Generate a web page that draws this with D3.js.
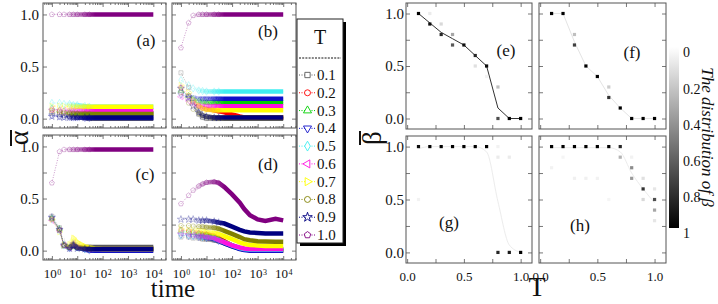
<!DOCTYPE html>
<html><head><meta charset="utf-8">
<script src="https://cdn.jsdelivr.net/npm/d3@7"></script>
<style>
body{margin:0;background:#fff}
svg{display:block}
text{font-family:"Liberation Serif","Times New Roman",Times,serif;fill:#111}
</style>
</head><body>
<svg id="c" width="718" height="304"></svg>
<script>
// ---------------- DATA ----------------
const temps = ["0.1","0.2","0.3","0.4","0.5","0.6","0.7","0.8","0.9","1.0"];
const seriesColors = ["#5a5a5a","#ff0000","#00d000","#1010c8","#40eef0","#ff10e0","#ffff00","#808000","#000080","#800080"];
const symbolKinds = ["square","circle","triangle","down","diamond","left","right","circle","star","pentagon"];
const times = [1,2,3,5,7,10,20,30,50,100,200,300,500,1000,2000,5000,10000];

const alphaA = [
  [0.05,0.04,0.03,0.02,0.015,0.01,0.005,0,0,0,0,0,0,0,0,0,0],
  [0.08,0.07,0.06,0.055,0.05,0.05,0.05,0.05,0.05,0.05,0.05,0.05,0.05,0.05,0.05,0.05,0.05],
  [0.10,0.08,0.07,0.06,0.055,0.05,0.05,0.05,0.05,0.05,0.05,0.05,0.05,0.05,0.05,0.05,0.05],
  [0.03,0.02,0.02,0.015,0.01,0.01,0.005,0.005,0.005,0.005,0.005,0.005,0.005,0.005,0.005,0.005,0.005],
  [0.15,0.15,0.14,0.14,0.13,0.13,0.12,0.115,0.115,0.115,0.115,0.115,0.115,0.115,0.115,0.115,0.115],
  [0.09,0.085,0.08,0.08,0.08,0.08,0.08,0.08,0.08,0.08,0.08,0.08,0.08,0.08,0.08,0.08,0.08],
  [0.12,0.12,0.12,0.115,0.115,0.115,0.115,0.115,0.115,0.115,0.115,0.115,0.115,0.115,0.115,0.115,0.115],
  [0.06,0.055,0.05,0.045,0.045,0.045,0.045,0.045,0.045,0.045,0.045,0.045,0.045,0.045,0.045,0.045,0.045],
  [0.02,0.015,0.01,0.01,0.01,0.01,0.01,0.01,0.01,0.01,0.01,0.01,0.01,0.01,0.01,0.01,0.01],
  [1,1,1,1,1,1,1,1,1,1,1,1,1,1,1,1,1]
];
const alphaB = [
  [0.44,0.30,0.18,0.04,0.01,0,0,0,0,0,0,0,0,0,0,0,0],
  [0.30,0.22,0.16,0.12,0.10,0.09,0.08,0.07,0.06,0.04,0.02,0.012,0.01,0.01,0.01,0.01,0.01],
  [0.27,0.22,0.19,0.17,0.16,0.155,0.155,0.155,0.155,0.155,0.155,0.155,0.155,0.155,0.155,0.155,0.155],
  [0.23,0.21,0.20,0.19,0.19,0.19,0.19,0.19,0.19,0.19,0.19,0.19,0.19,0.19,0.19,0.19,0.19],
  [0.37,0.32,0.29,0.27,0.265,0.26,0.26,0.26,0.26,0.26,0.26,0.26,0.26,0.26,0.26,0.26,0.26],
  [0.21,0.17,0.14,0.125,0.12,0.12,0.12,0.12,0.12,0.12,0.12,0.12,0.12,0.12,0.12,0.12,0.12],
  [0.32,0.25,0.18,0.12,0.095,0.085,0.08,0.08,0.08,0.08,0.08,0.08,0.08,0.08,0.08,0.08,0.08],
  [0.25,0.15,0.09,0.05,0.03,0.02,0.01,0.01,0.01,0.01,0.01,0.01,0.01,0.01,0.01,0.01,0.01],
  [0.29,0.20,0.12,0.06,0.03,0.02,0.01,0.01,0.01,0.01,0.01,0.01,0.01,0.01,0.01,0.01,0.01],
  [0.68,0.92,0.99,1,1,1,1,1,1,1,1,1,1,1,1,1,1]
];
const alphaC = [
  [0.33,0.22,0.06,0.03,0.04,0.035,0.035,0.035,0.035,0.035,0.035,0.035,0.035,0.035,0.035,0.035,0.035],
  [0.30,0.20,0.05,0.03,0.05,0.03,0.02,0.015,0.015,0.015,0.015,0.015,0.015,0.015,0.015,0.015,0.015],
  [0.31,0.21,0.05,0.03,0.06,0.03,0.02,0.015,0.015,0.015,0.015,0.015,0.015,0.015,0.015,0.015,0.015],
  [0.31,0.20,0.05,0.02,0.06,0.03,0.01,0,0,0,0,0,0,0,0,0,0],
  [0.30,0.19,0.05,0.03,0.07,0.03,0.015,0.015,0.015,0.015,0.015,0.015,0.015,0.015,0.015,0.015,0.015],
  [0.29,0.19,0.05,0.03,0.07,0.035,0.02,0.015,0.015,0.015,0.015,0.015,0.015,0.015,0.015,0.015,0.015],
  [0.30,0.18,0.05,0.06,0.12,0.08,0.04,0.03,0.02,0.015,0.015,0.015,0.015,0.015,0.015,0.015,0.015],
  [0.31,0.20,0.05,0.03,0.06,0.03,0.02,0.015,0.015,0.015,0.015,0.015,0.015,0.015,0.015,0.015,0.015],
  [0.32,0.20,0.05,0.02,0.05,0.02,0.015,0.015,0.015,0.015,0.015,0.015,0.015,0.015,0.015,0.015,0.015],
  [0.65,0.95,0.97,0.97,0.97,0.97,0.97,0.97,0.97,0.97,0.97,0.97,0.97,0.97,0.97,0.97,0.97]
];
const alphaD = [
  [0.13,0.13,0.12,0.12,0.11,0.11,0.10,0.09,0.07,0.04,0.02,0.01,0.005,0,0,0,0],
  [0.20,0.19,0.18,0.17,0.16,0.16,0.14,0.12,0.09,0.05,0.02,0.01,0.005,0.005,0.005,0.005,0.005],
  [0.19,0.18,0.17,0.16,0.15,0.15,0.13,0.11,0.08,0.05,0.02,0.012,0.01,0.01,0.01,0.01,0.01],
  [0.15,0.14,0.14,0.13,0.13,0.12,0.11,0.09,0.07,0.04,0.015,0.005,0,0,0,0,0],
  [0.15,0.15,0.14,0.14,0.13,0.13,0.12,0.10,0.08,0.05,0.025,0.015,0.01,0.01,0.01,0.01,0.01],
  [0.17,0.16,0.15,0.14,0.14,0.13,0.12,0.10,0.08,0.05,0.03,0.02,0.015,0.015,0.015,0.015,0.015],
  [0.21,0.20,0.20,0.19,0.19,0.18,0.17,0.16,0.14,0.11,0.08,0.065,0.055,0.05,0.045,0.045,0.045],
  [0.24,0.24,0.235,0.23,0.23,0.225,0.22,0.21,0.19,0.16,0.13,0.11,0.10,0.09,0.088,0.086,0.085],
  [0.30,0.30,0.30,0.29,0.29,0.29,0.28,0.27,0.26,0.23,0.20,0.185,0.175,0.17,0.165,0.165,0.165],
  [0.45,0.53,0.58,0.62,0.64,0.655,0.66,0.65,0.61,0.54,0.46,0.40,0.34,0.30,0.285,0.305,0.29]
];

const Tvals = [0.1,0.2,0.3,0.4,0.5,0.6,0.7,0.8,0.9,1.0];
const meanE = [1.0,0.91,0.82,0.76,0.70,0.60,0.50,0.10,0.0,0.0];
const meanF = [1.0,1.0,0.73,0.50,0.40,0.22,0.10,0.0,0.0,0.0];
const meanG = [0.98,1.0,1.0,1.0,1.0,1.0,0.95,0.48,0.07,0.0];
const meanH = [0.99,0.99,0.99,0.99,0.99,0.99,0.95,0.75,0.60,0.47];
// [T, beta, share]
const distE = [[0.1,1.0,1.0],[0.2,0.9,0.95],[0.2,1.0,0.08],[0.3,0.8,0.85],[0.3,0.9,0.15],[0.4,0.7,0.65],[0.4,0.8,0.35],
  [0.5,0.7,0.95],[0.6,0.6,0.85],[0.6,0.5,0.12],[0.7,0.5,0.95],[0.7,0.4,0.05],[0.8,0.3,0.25],[0.8,0.0,0.7],[0.9,0.0,1.0],[1.0,0.0,1.0]];
const distF = [[0.1,1.0,1.0],[0.2,1.0,1.0],[0.3,0.8,0.25],[0.3,0.7,0.75],[0.4,0.5,1.0],[0.5,0.4,1.0],[0.6,0.3,0.2],[0.6,0.2,0.8],
  [0.7,0.1,1.0],[0.8,0.0,1.0],[0.9,0.0,1.0],[1.0,0.0,1.0]];
const distG = [[0.1,1.0,0.95],[0.1,0.5,0.05],[0.2,1.0,1.0],[0.3,1.0,1.0],[0.4,1.0,1.0],[0.5,1.0,1.0],[0.6,1.0,1.0],[0.7,1.0,1.0],
  [0.8,1.0,0.05],[0.8,0.9,0.08],[0.8,0.0,0.85],[0.9,0.9,0.08],[0.9,0.0,0.9],[1.0,0.0,1.0]];
const distH = [[0.1,1.0,1.0],[0.1,0.8,0.05],[0.2,1.0,1.0],[0.2,0.9,0.04],[0.3,1.0,1.0],[0.3,0.7,0.06],[0.4,1.0,1.0],[0.4,0.7,0.06],
  [0.5,1.0,1.0],[0.5,0.7,0.05],[0.6,1.0,1.0],[0.6,0.5,0.04],[0.7,1.0,0.85],[0.7,0.9,0.3],[0.8,0.8,0.45],[0.8,0.7,0.4],[0.8,0.9,0.05],
  [0.9,0.7,0.12],[0.9,0.6,0.8],[0.9,0.5,0.15],[1.0,0.6,0.1],[1.0,0.5,0.7],[1.0,0.4,0.35],[1.0,0.3,0.1]];
const cbTicks = [0,0.2,0.4,0.6,0.8,1];

// ---------------- DRAWING ----------------
const SERIF = '"Liberation Serif","Times New Roman",Times,serif';
const svg = d3.select("#c").style("font-family",SERIF);
const defs = svg.append("defs");
const FRAME = "#555";

const pentagonType = {draw(ctx,size){const r=Math.sqrt(size/2.378);for(let k=0;k<5;k++){const a=-Math.PI/2+k*2*Math.PI/5;const px=r*Math.cos(a),py=r*Math.sin(a);k?ctx.lineTo(px,py):ctx.moveTo(px,py);}ctx.closePath();}};
const symMap = {square:d3.symbolSquare,circle:d3.symbolCircle,triangle:d3.symbolTriangle,down:d3.symbolTriangle,diamond:d3.symbolDiamond,left:d3.symbolTriangle,right:d3.symbolTriangle,star:d3.symbolStar,pentagon:pentagonType};
const symRot = {down:180,left:-90,right:90};
function symPath(kind,size){return d3.symbol().type(symMap[kind]).size(size)();}

function styleAxis(g, fs){
  g.attr("font-family",SERIF);
  g.select(".domain").remove();
  g.selectAll(".tick line").attr("stroke",FRAME).attr("stroke-width",0.8);
  g.selectAll(".tick text").attr("font-size",fs).style("font-family",SERIF).attr("fill","#111");
}

function frameRect(p){
  svg.append("rect").attr("x",p.x0).attr("y",p.y0).attr("width",p.x1-p.x0).attr("height",p.y1-p.y0)
    .attr("fill","none").attr("stroke",FRAME).attr("stroke-width",1);
}

const alphaX = (p)=>d3.scaleLog().domain([Math.pow(10,-0.35),Math.pow(10,4.5)]).range([p.x0,p.x1]);
const alphaY = (p)=>d3.scaleLinear().domain([-0.09,1.11]).range([p.y1,p.y0]);
const decades = [1,10,100,1000,10000];
const minors = [];
[0.1,1,10,100,1000,10000].forEach(d=>{for(let m=2;m<=9;m++){const v=d*m;if(v>=Math.pow(10,-0.35)&&v<=Math.pow(10,4.5))minors.push(v);}});
const yTicksAll = [0,0.25,0.5,0.75,1];

function drawAlphaPanel(key, data, p, showY, showX, label, labelPos){
  const x = alphaX(p), y = alphaY(p);
  const cid = "clip-"+key;
  defs.append("clipPath").attr("id",cid).append("rect").attr("x",p.x0).attr("y",p.y0).attr("width",p.x1-p.x0).attr("height",p.y1-p.y0);
  const g = svg.append("g").attr("clip-path",`url(#${cid})`);
  const line = d3.line().x(d=>x(d[0])).y(d=>y(d[1]));
  data.forEach((vals,i)=>{
    const c = seriesColors[i];
    const pts = times.map((t,j)=>[t,vals[j]]);
    g.append("path").attr("d",line(pts)).attr("fill","none").attr("stroke",c).attr("stroke-width",0.8)
      .attr("stroke-dasharray","1,1.5").attr("opacity",0.5);
    pts.filter(d=>d[0]<=30).forEach(d=>{
      g.append("path").attr("d",symPath(symbolKinds[i],16))
        .attr("transform",`translate(${x(d[0])},${y(d[1])}) rotate(${symRot[symbolKinds[i]]||0})`)
        .attr("fill","none").attr("stroke",c).attr("stroke-width",0.7).attr("opacity",0.4);
    });
    const gid = `grad-${key}-${i}`;
    const lg = defs.append("linearGradient").attr("id",gid).attr("gradientUnits","userSpaceOnUse")
      .attr("x1",x(3)).attr("x2",x(50)).attr("y1",0).attr("y2",0);
    lg.append("stop").attr("offset",0).attr("stop-color",c).attr("stop-opacity",0);
    lg.append("stop").attr("offset",0.5).attr("stop-color",c).attr("stop-opacity",0.55);
    lg.append("stop").attr("offset",1).attr("stop-color",c).attr("stop-opacity",1);
    g.append("path").attr("d",line(pts)).attr("fill","none").attr("stroke",`url(#${gid})`).attr("stroke-width",4.5);
  });
  frameRect(p);
  const gb = svg.append("g").attr("transform",`translate(0,${p.y1})`)
    .call(d3.axisBottom(x).tickValues(decades).tickSize(-4).tickPadding(9).tickFormat(d=>"10"));
  styleAxis(gb,13);
  if(showX){
    gb.selectAll(".tick text").each(function(d){
      const t=d3.select(this); t.text(null);
      t.append("tspan").text("10");
      t.append("tspan").attr("dx","0.5").attr("dy","-0.45em").attr("font-size",8).text(Math.round(Math.log10(d)));
    });
  } else gb.selectAll(".tick text").remove();
  const gbm = svg.append("g").attr("transform",`translate(0,${p.y1})`).call(d3.axisBottom(x).tickValues(minors).tickSize(-2).tickFormat(""));
  styleAxis(gbm,10);
  const gt = svg.append("g").attr("transform",`translate(0,${p.y0})`).call(d3.axisTop(x).tickValues(decades).tickSize(-4).tickFormat(""));
  styleAxis(gt,10);
  const gtm = svg.append("g").attr("transform",`translate(0,${p.y0})`).call(d3.axisTop(x).tickValues(minors).tickSize(-2).tickFormat(""));
  styleAxis(gtm,10);
  const gl = svg.append("g").attr("transform",`translate(${p.x0},0)`)
    .call(d3.axisLeft(y).tickValues(yTicksAll).tickSize(-4).tickPadding(4).tickFormat(d=>(showY&&(d===0||d===0.5||d===1))?d3.format(".1f")(d):""));
  styleAxis(gl,15);
  const gr = svg.append("g").attr("transform",`translate(${p.x1},0)`).call(d3.axisRight(y).tickValues(yTicksAll).tickSize(-4).tickFormat(""));
  styleAxis(gr,10);
  svg.append("text").attr("x",labelPos[0]).attr("y",labelPos[1]).attr("text-anchor","middle").attr("font-size",17).text(label);
}

const PA={x0:43,x1:166,y0:3,y1:128}, PB={x0:172,x1:296,y0:3,y1:128},
      PC={x0:43,x1:166,y0:135,y1:260}, PD={x0:172,x1:296,y0:135,y1:260};
drawAlphaPanel("a",alphaA,PA,true,false,"(a)",[146,46]);
drawAlphaPanel("b",alphaB,PB,false,false,"(b)",[268,37]);
drawAlphaPanel("c",alphaC,PC,true,true,"(c)",[145,180]);
drawAlphaPanel("d",alphaD,PD,false,true,"(d)",[268,170]);

// beta panels
const betaX = (p)=>d3.scaleLinear().domain([-0.01,1.1]).range([p.x0,p.x1]);
const betaY = (p)=>d3.scaleLinear().domain([-0.1,1.1]).range([p.y1,p.y0]);
const grayOf = d3.scaleLinear().domain([0,1]).range(["#ffffff","#000000"]);
const xTicksB = [0,0.25,0.5,0.75,1];

function drawBetaPanel(key, dist, means, p, lineColor, curve, showY, showX, label, labelPos){
  const x = betaX(p), y = betaY(p);
  frameRect(p);
  const line = d3.line().x((d,i)=>x(Tvals[i])).y(d=>y(d)).curve(curve);
  svg.append("path").attr("d",line(means)).attr("fill","none").attr("stroke",lineColor).attr("stroke-width",1);
  svg.append("g").selectAll("rect").data(dist).join("rect")
    .attr("x",d=>x(d[0])-1.6).attr("y",d=>y(d[1])-1.6).attr("width",3.2).attr("height",3.2)
    .attr("fill",d=>grayOf(d[2]));
  const gb = svg.append("g").attr("transform",`translate(0,${p.y1})`)
    .call(d3.axisBottom(x).tickValues(xTicksB).tickSize(-4).tickPadding(9).tickFormat(d=>(showX&&(d===0||d===0.5||d===1))?d3.format(".1f")(d):""));
  styleAxis(gb,13);
  const gt = svg.append("g").attr("transform",`translate(0,${p.y0})`).call(d3.axisTop(x).tickValues(xTicksB).tickSize(-4).tickFormat(""));
  styleAxis(gt,10);
  const gl = svg.append("g").attr("transform",`translate(${p.x0},0)`)
    .call(d3.axisLeft(y).tickValues(yTicksAll).tickSize(-4).tickPadding(2).tickFormat(d=>(showY&&(d===0||d===0.5||d===1))?d3.format(".1f")(d):""));
  styleAxis(gl,15);
  const gr = svg.append("g").attr("transform",`translate(${p.x1},0)`).call(d3.axisRight(y).tickValues(yTicksAll).tickSize(-4).tickFormat(""));
  styleAxis(gr,10);
  svg.append("text").attr("x",labelPos[0]).attr("y",labelPos[1]).attr("text-anchor","middle").attr("font-size",17).text(label);
}
const PE={x0:406,x1:532,y0:3,y1:129}, PF={x0:539,x1:666,y0:3,y1:129},
      PG={x0:406,x1:532,y0:136,y1:263}, PH={x0:539,x1:666,y0:136,y1:263};
drawBetaPanel("e",distE,meanE,PE,"#333",d3.curveLinear,true,false,"(e)",[506,56]);
drawBetaPanel("f",distF,meanF,PF,"#e4e4e4",d3.curveLinear,false,false,"(f)",[632,58]);
drawBetaPanel("g",distG,meanG,PG,"#ececec",d3.curveMonotoneX,true,true,"(g)",[449,228]);
drawBetaPanel("h",distH,meanH,PH,"#ececec",d3.curveMonotoneX,false,true,"(h)",[580,231]);

// legend
const LG = {x:297,y:19,w:46,h:224};
svg.append("rect").attr("x",LG.x+3).attr("y",LG.y+3).attr("width",LG.w).attr("height",LG.h).attr("fill","#000");
svg.append("rect").attr("x",LG.x).attr("y",LG.y).attr("width",LG.w).attr("height",LG.h).attr("fill","#fff").attr("stroke","#222").attr("stroke-width",1);
svg.append("text").attr("x",LG.x+LG.w/2).attr("y",LG.y+25).attr("text-anchor","middle").attr("font-size",20).text("T");
svg.append("line").attr("x1",LG.x+2).attr("x2",LG.x+LG.w-2).attr("y1",LG.y+39).attr("y2",LG.y+39)
  .attr("stroke","#111").attr("stroke-width",1).attr("stroke-dasharray","2,1.2");
const legY = d3.scalePoint().domain(temps).range([75,235]);
temps.forEach((t,i)=>{
  const yy = legY(t), c = seriesColors[i];
  svg.append("line").attr("x1",LG.x+2).attr("x2",LG.x+19).attr("y1",yy).attr("y2",yy)
    .attr("stroke",c).attr("stroke-width",1).attr("stroke-dasharray","1,1.5");
  svg.append("path").attr("d",symPath(symbolKinds[i],28))
    .attr("transform",`translate(${LG.x+10.5},${yy}) rotate(${symRot[symbolKinds[i]]||0})`)
    .attr("fill","#fff").attr("stroke",c).attr("stroke-width",0.9);
  svg.append("text").attr("x",LG.x+20).attr("y",yy+5).attr("font-size",15).text(t);
});

// axis titles
const ga = svg.append("g").attr("transform","translate(28,138) rotate(-90)");
ga.append("text").attr("x",0).attr("y",0).attr("text-anchor","middle").attr("font-size",28).text("α");
ga.append("line").attr("x1",-8).attr("x2",8).attr("y1",-17).attr("y2",-17).attr("stroke","#111").attr("stroke-width",2);
const gbt = svg.append("g").attr("transform","translate(381,138) rotate(-90)");
gbt.append("text").attr("x",0).attr("y",0).attr("text-anchor","middle").attr("font-size",27).text("β");
gbt.append("line").attr("x1",-7).attr("x2",7).attr("y1",-21).attr("y2",-21).attr("stroke","#111").attr("stroke-width",2);
svg.append("text").attr("x",173).attr("y",297).attr("text-anchor","middle").attr("font-size",25).text("time");
svg.append("text").attr("x",537).attr("y",296).attr("text-anchor","middle").attr("font-size",28).text("T");

// colorbar
const cb = d3.scaleLinear().domain([0,1]).range([47,228]);
const cg = defs.append("linearGradient").attr("id","cbgrad").attr("x1",0).attr("x2",0).attr("y1",0).attr("y2",1);
cbTicks.forEach(v=>cg.append("stop").attr("offset",v).attr("stop-color",grayOf(v)));
svg.append("rect").attr("x",669).attr("y",cb(0)).attr("width",10).attr("height",cb(1)-cb(0)).attr("fill","url(#cbgrad)");
const gcb = svg.append("g").attr("transform","translate(679,0)").call(d3.axisRight(cb).tickValues(cbTicks).tickSize(0).tickPadding(4).tickFormat(d=>d===0||d===1?String(d):d3.format(".1f")(d)));
styleAxis(gcb,14);
gcb.selectAll(".tick text").attr("dy","0.7em");
svg.append("text").attr("transform","translate(702,137) rotate(90)").attr("text-anchor","middle")
  .attr("font-size",17).attr("font-style","italic").text("The distribution of β");
</script>
</body></html>
